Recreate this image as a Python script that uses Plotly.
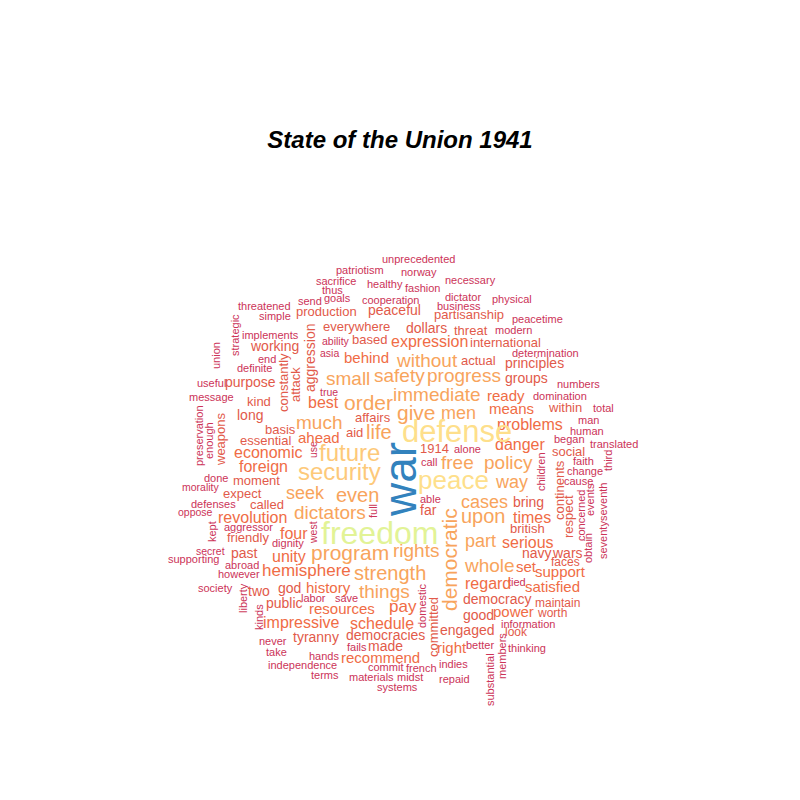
import plotly.graph_objects as go

TITLE = "State of the Union 1941"

# word, pseudo-frequency, and layout position (px on a 0-800 canvas), rotated flag
words = [
 "unprecedented","patriotism","norway","sacrifice","healthy","fashion","necessary","thus","goals","cooperation",
 "dictator","business","physical","send","threatened","simple","peacetime","modern","implements","ability",
 "asia","determination","end","definite","union","strategic","useful","message","numbers","domination",
 "true","total","man","human","began","translated","preservation","enough","use","third",
 "children","faith","change","cause","alone","call","able","full","done","morality",
 "defenses","oppose","kept","aggressor","dignity","west","events","concerned","seventyseventh","obtain",
 "secret","supporting","abroad","however","society","liberty","labor","kinds","save","domestic",
 "tied","faces","maintain","worth","information","look","members","thinking","substantial","never",
 "take","hands","independence","terms","fails","indies","commit","french","materials","midst",
 "repaid","systems","better",
 "production","peaceful","partisanship","everywhere","dollars","threat","based","international","actual","principles",
 "groups","working","aggression","constantly","attack","purpose","kind","long","weapons","basis",
 "essential","moment","expect","called","friendly","past","two","god","public","impressive",
 "tyranny","affairs","aid","1914","far","within","social","continents","respect","bring",
 "british","democracies","made","recommend","engaged","good","democracy","right","power","satisfied",
 "support","set","navy","wars","committed",
 "best","ahead","behind","expression","means","ready","problems","danger","times","serious",
 "regard","schedule","pay","resources","history","hemisphere","unity","four","revolution","foreign",
 "economic",
 "order","give","men","life","small","safety","progress","immediate","without","much",
 "free","policy","even","seek","dictators","cases","upon","part","whole","rights",
 "program","strength","things","democratic","way",
 "security","future","defense","peace","freedom","war",
]
freq = [
 2,2,2,2,2,2,2,2,2,2,
 2,2,2,2,2,2,2,2,2,1.5,
 1.5,2,2,2,2,2,2,2,2,2,
 1.5,2,2,2,2,2,2,2,1.5,2,
 2,2,2,2,2,2,2,2,2,1.5,
 2,1.5,2,2,2,1.5,2,2,2,2,
 1.5,2,2,2,2,2,2,2,2,2,
 2,3,3,3,2,3,2,2,2,2,
 2,2,2,2,2,2,2,2,2,2,
 2,2,2,
 4,5,4,4,5,4,4,4,4,5,
 5,5,5,4,4,5,4,5,4,4,
 4,4,4,4,4,5,5,5,5,7,
 5,4,4,4,5,4,4,4,4,5,
 4,5,5,6,5,5,5,6,6,6,
 6,6,5,5,4,
 7,6,6,7,6,6,7,7,7,7,
 7,7,8,6,6,8,7,7,7,7,
 7,
 12,12,9,11,10,10,10,10,10,10,
 10,10,11,9,10,9,11,9,10,10,
 12,11,10,12,9,
 15,15,22,17,23,37,
]
pos_x = [
 418,360,419,336,385,422,470,332,337,391,
 463,459,512,310,264,275,537,513,270,336,
 329,545,267,254,216,235,211,211,578,560,
 329,603,588,587,569,614,199,209,313,608,
 541,583,585,578,467,429,430,373,216,201,
 213,195,212,248,288,313,590,581,603,588,
 210,193,242,239,215,243,313,259,346,422,
 517,565,557,552,528,516,502,527,490,273,
 276,324,302,325,357,453,385,421,371,410,
 454,397,480,
 326,394,469,356,426,471,369,505,478,534,
 526,274,310,283,295,250,259,250,220,280,
 265,256,242,267,248,244,259,289,284,301,
 316,373,354,434,428,565,568,559,568,528,
 527,385,385,380,467,478,497,452,513,552,
 560,526,537,567,433,
 323,319,366,429,511,506,530,520,532,528,
 488,382,403,342,328,306,289,294,252,263,
 268,
 368,416,458,379,348,399,464,437,427,319,
 457,508,357,305,330,484,483,480,489,416,
 350,390,384,449,511,
 339,349,457,453,379,400,
]
pos_y = [
 259,270,272,281,284,288,280,290,298,300,
 297,306,299,301,306,316,319,330,335,341,
 353,353,359,368,356,335,383,397,384,396,
 392,408,420,431,439,444,436,441,450,461,
 472,461,471,481,449,462,499,511,478,487,
 504,512,532,527,543,533,500,516,521,548,
 551,559,565,574,588,598,598,617,598,606,
 582,562,603,613,624,632,656,648,680,641,
 652,656,665,675,647,664,667,668,677,677,
 679,687,645,
 311,310,314,326,328,330,339,342,360,363,
 378,346,358,383,385,382,401,415,439,429,
 440,480,493,504,537,553,591,588,603,622,
 637,417,432,448,510,407,451,490,517,502,
 528,635,646,657,630,615,599,647,611,586,
 571,566,553,553,627,
 402,437,357,341,408,395,424,444,517,542,
 583,623,606,608,587,570,556,533,517,466,
 452,
 402,412,413,432,378,375,375,394,360,422,
 462,462,495,493,512,502,516,541,565,550,
 552,573,591,560,482,
 471,452,431,480,533,480,
]
rotated = {"union","strategic","preservation","enough","use","third","children","full","kept","west",
           "events","concerned","seventyseventh","obtain","liberty","kinds","domestic","members",
           "substantial","aggression","constantly","attack","weapons","continents","respect",
           "committed","democratic","war"}

FONT = "Liberation Sans, Arial, Helvetica, sans-serif"


def word_size(f):
    return 9 + f


def word_color(f):
    if f <= 2:
        return "#cc3358"
    if f <= 5:
        return "#e25a4a"
    if f <= 8:
        return "#f06c45"
    if f <= 13:
        return "#f8a45c"
    if f <= 16:
        return "#fdc97a"
    if f <= 22:
        return "#fedf8b"
    if f <= 30:
        return "#e2f396"
    return "#3282bd"


fig = go.Figure()
fig.add_trace(go.Scatter(x=pos_x, y=pos_y, mode="markers", text=words,
                         marker=dict(opacity=0, size=1), hoverinfo="text", showlegend=False))

annotations = []
for w, f, x, y in zip(words, freq, pos_x, pos_y):
    annotations.append(dict(
        x=x, y=y, xref="x", yref="y", text=w, showarrow=False,
        textangle=-90 if w in rotated else 0,
        xanchor="center", yanchor="middle",
        font=dict(size=word_size(f), color=word_color(f), family=FONT),
    ))

fig.update_layout(
    width=800, height=800,
    margin=dict(l=0, r=0, t=0, b=0),
    paper_bgcolor="white", plot_bgcolor="white",
    xaxis=dict(range=[0, 800], visible=False, fixedrange=True),
    yaxis=dict(range=[800, 0], visible=False, fixedrange=True),
    annotations=annotations,
    title=dict(text="<b><i>" + TITLE + "</i></b>", x=0.5, xanchor="center",
               y=1 - 140 / 800, yanchor="middle",
               font=dict(size=24, color="black", family=FONT)),
)

fig.write_html("out.html")
